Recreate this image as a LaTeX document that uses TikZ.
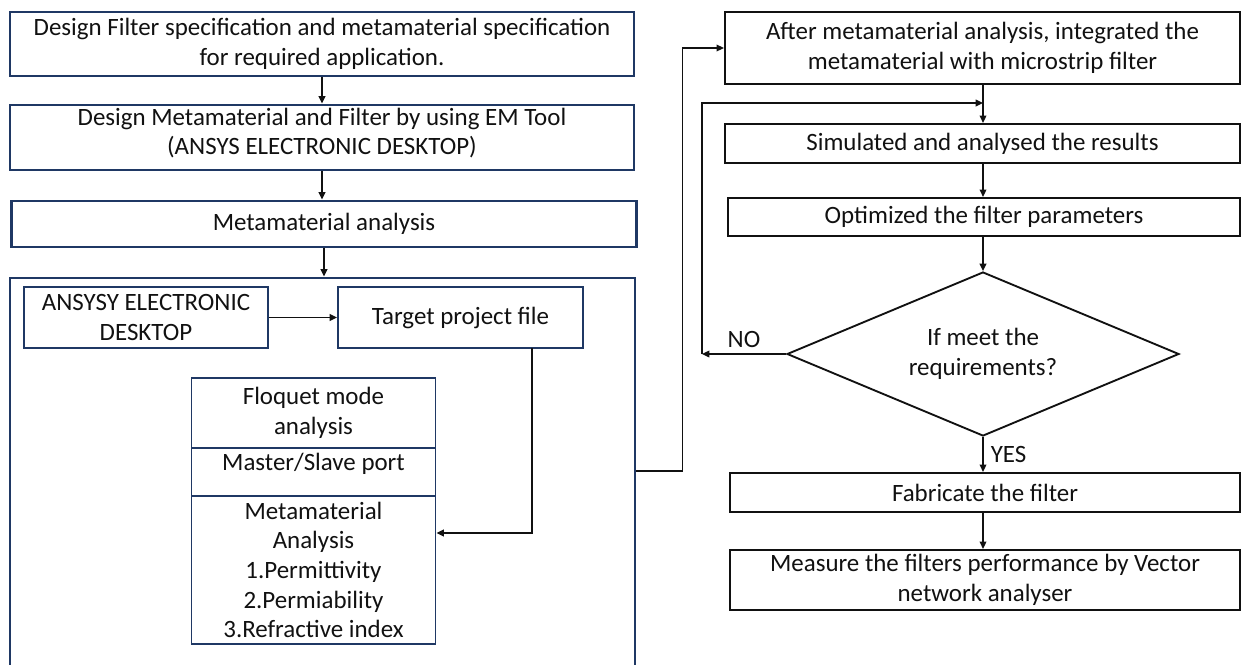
\documentclass[tikz,border=0pt]{standalone}
\usepackage{fontspec}
\setmainfont{Carlito}
\usetikzlibrary{
  positioning,
  shapes.geometric,
  arrows.meta,
  calc,
}
\definecolor{navyBorder}{HTML}{1F3864}
\definecolor{border}{HTML}{111111}
\definecolor{arrowCol}{HTML}{111111}
\definecolor{textCol}{HTML}{111111}
\newlength{\unitpx}
\setlength{\unitpx}{0.75pt}
\tikzset{
  stepbox/.style={
    rectangle, draw=navyBorder, fill=white, align=center,
    font=\fontsize{18.7}{22.2}\selectfont, text=textCol,
    inner sep=2pt, line width=2.2pt,
  },
  innerbox/.style={
    stepbox, line width=1.4pt,
  },
  rightbox/.style={
    stepbox, draw=border, line width=1.6pt,
  },
  decision/.style={
    diamond, draw=border, fill=white, align=center, aspect=2.4,
    font=\fontsize{18.7}{22.2}\selectfont, text=textCol,
    inner sep=0pt, line width=1.4pt,
  },
  arrow/.style={-{Triangle[length=5.5pt, width=5pt]}, arrowCol, line width=1pt},
  label/.style={font=\fontsize{18.7}{22.2}\selectfont, text=textCol},
}

\begin{document}
\begin{tikzpicture}[x=\unitpx, y=-\unitpx]

  \useasboundingbox (0,0) rectangle (1244,664);

  % Left column
  \node[stepbox, minimum width=624\unitpx, minimum height=64\unitpx] (spec) at (322,44)
    {Design Filter specification and metamaterial specification\\for required application.};
  \node[stepbox, minimum width=624\unitpx, minimum height=65\unitpx, inner ysep=0pt, text depth=9pt] (design) at (322,137.5)
    {Design Metamaterial and Filter by using EM Tool\\(ANSYS ELECTRONIC DESKTOP)};
  \node[stepbox, minimum width=625\unitpx, minimum height=46\unitpx] (analysis) at (324,224)
    {Metamaterial analysis};

  % Analysis frame
  \node[stepbox, minimum width=625\unitpx, minimum height=392\unitpx] (frame) at (322.5,474) {};
  \node[innerbox, minimum width=244\unitpx, minimum height=61\unitpx] (ansys) at (146,317.5)
    {ANSYSY ELECTRONIC\\DESKTOP};
  \node[innerbox, minimum width=245\unitpx, minimum height=61\unitpx] (target) at (460.5,317.5)
    {Target project file};
  \node[innerbox, minimum width=244\unitpx, minimum height=70\unitpx] (floquet) at (313.5,413)
    {Floquet mode\\analysis};
  \node[innerbox, minimum width=244\unitpx, minimum height=48\unitpx, text depth=14.5pt] (master) at (313.5,472)
    {Master/Slave port};
  \node[innerbox, minimum width=244\unitpx, minimum height=148\unitpx] (meta) at (313.5,570)
    {Metamaterial\\Analysis\\1.Permittivity\\2.Permiability\\3.Refractive index};

  % Right column
  \node[rightbox, minimum width=515\unitpx, minimum height=72\unitpx] (integrate) at (982.5,48)
    {After metamaterial analysis, integrated the\\metamaterial with microstrip filter};
  \node[rightbox, minimum width=515\unitpx, minimum height=39\unitpx] (simulate) at (982.5,143.5)
    {Simulated and analysed the results};
  \node[rightbox, minimum width=512\unitpx, minimum height=38\unitpx] (optimize) at (984,217)
    {Optimized the filter parameters};
  \node[decision, minimum width=392\unitpx, minimum height=164\unitpx] (check) at (983,354)
    {If meet the\\requirements?};
  \node[rightbox, minimum width=510\unitpx, minimum height=39\unitpx] (fabricate) at (985,492.5)
    {Fabricate the filter};
  \node[rightbox, minimum width=510\unitpx, minimum height=60\unitpx] (measure) at (985,580)
    {Measure the filters performance by Vector\\network analyser};

  \coordinate (tgtout) at (532,348);
  \coordinate (noturn) at (702,354);
  \coordinate (loopin) at (983,103);

  \draw[arrow] (spec) -- (design);
  \draw[arrow] (design.south) -- (design.south |- analysis.north);
  \draw[arrow] (analysis.south) -- (analysis.south |- frame.north);
  \draw[arrow] (ansys) -- (target);
  \draw[arrow] (tgtout) |- (meta.east |- 0,533);

  \draw[arrow] (frame.east |- 0,471) -- ++(46,0) |- (integrate.west);
  \draw[arrow] (integrate.south -| check.north) -- (simulate.north -| check.north);
  \draw[arrow] (simulate.south -| check.north) -- (optimize.north -| check.north);
  \draw[arrow] (optimize.south -| check.north) -- (check.north);
  \draw[arrow] (check.south) -- node[label, right=2pt] {YES} (check.south |- fabricate.north);
  \draw[arrow] (fabricate.south -| check.south) -- (measure.north -| check.south);

  % Feedback loop
  \draw[arrow] (check.west) -- node[label, above=1pt] {NO} (noturn);
  \draw[arrow] (noturn) |- (loopin);

\end{tikzpicture}
\end{document}
